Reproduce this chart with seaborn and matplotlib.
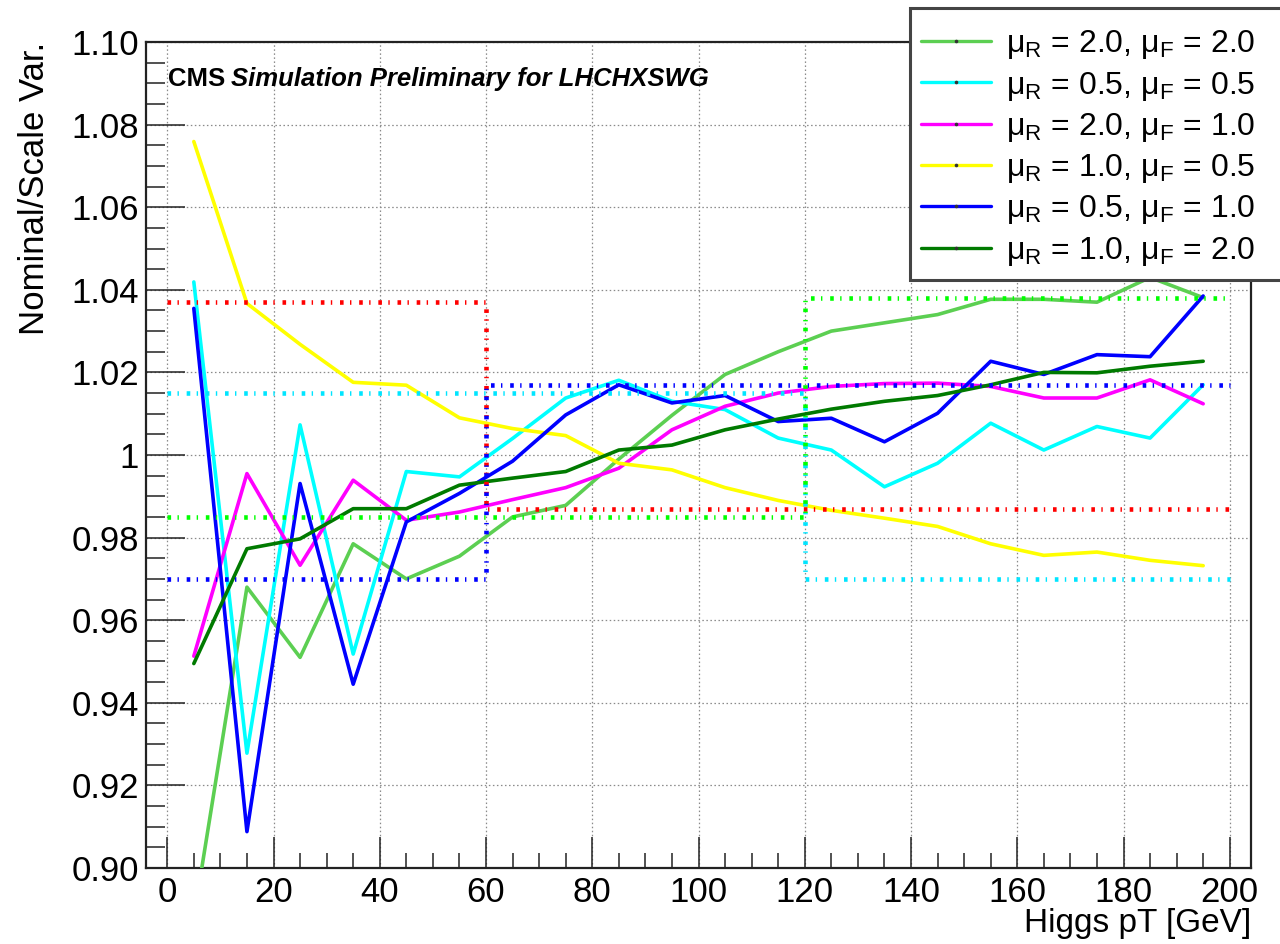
import numpy as np
import pandas as pd
import matplotlib
matplotlib.use("Agg")
import matplotlib.pyplot as plt
from matplotlib.lines import Line2D
from matplotlib.patches import Rectangle
from matplotlib.ticker import MultipleLocator, FuncFormatter
import seaborn as sns

# ---- data -------------------------------------------------------------
pt_centers = [5, 15, 25, 35, 45, 55, 65, 75, 85, 95,
              105, 115, 125, 135, 145, 155, 165, 175, 185, 195]

var_labels = [
    "μ$_\\mathregular{R}$ = 2.0, μ$_\\mathregular{F}$ = 2.0",
    "μ$_\\mathregular{R}$ = 0.5, μ$_\\mathregular{F}$ = 0.5",
    "μ$_\\mathregular{R}$ = 2.0, μ$_\\mathregular{F}$ = 1.0",
    "μ$_\\mathregular{R}$ = 1.0, μ$_\\mathregular{F}$ = 0.5",
    "μ$_\\mathregular{R}$ = 0.5, μ$_\\mathregular{F}$ = 1.0",
    "μ$_\\mathregular{R}$ = 1.0, μ$_\\mathregular{F}$ = 2.0",
]
var_colors = ["#5ccf52", "#00ffff", "#ff00ff", "#ffff00", "#0000ff", "#007a00"]

r20_f20 = [0.888, 0.968, 0.951, 0.9785, 0.970, 0.9755, 0.985, 0.9878, 0.999, 1.0096,
           1.0195, 1.025, 1.030, 1.032, 1.034, 1.0377, 1.0377, 1.037, 1.043, 1.0381]
r05_f05 = [1.0419, 0.9278, 1.0073, 0.9518, 0.9960, 0.9947, 1.004, 1.0138, 1.0181, 1.013,
           1.011, 1.0041, 1.0012, 0.9923, 0.998, 1.0077, 1.0012, 1.0069, 1.0041, 1.017]
r20_f10 = [0.9513, 0.9955, 0.9733, 0.9939, 0.9842, 0.9862, 0.9892, 0.9921, 0.9968, 1.0061,
           1.0118, 1.015, 1.0166, 1.0173, 1.0174, 1.0166, 1.0138, 1.0138, 1.0182, 1.0124]
r10_f05 = [1.0759, 1.0367, 1.0268, 1.0176, 1.0169, 1.0090, 1.0064, 1.0047, 0.998, 0.9964,
           0.9921, 0.9890, 0.9866, 0.9847, 0.9827, 0.9785, 0.9757, 0.9765, 0.9745, 0.9732]
r05_f10 = [1.0355, 0.9088, 0.9931, 0.9445, 0.9838, 0.9907, 0.9985, 1.0097, 1.017, 1.0126,
           1.0144, 1.0081, 1.0089, 1.0032, 1.0101, 1.0227, 1.0195, 1.0243, 1.0238, 1.0385]
r10_f20 = [0.9495, 0.9773, 0.9797, 0.9870, 0.9870, 0.9927, 0.9944, 0.9960, 1.0012, 1.0024,
           1.0061, 1.0087, 1.0111, 1.0130, 1.0144, 1.0170, 1.0200, 1.0199, 1.0215, 1.0227]

series_values = [r20_f20, r05_f05, r20_f10, r10_f05, r05_f10, r10_f20]

# envelope steps over coarse pT bins
env_edges = [0, 60, 120, 200]
env_red = [1.037, 0.987, 0.987]
env_cyan = [1.015, 1.015, 0.970]
env_blue = [0.970, 1.017, 1.017]
env_green = [0.985, 0.985, 1.038]
env_series = [env_red, env_cyan, env_blue, env_green]
env_colors = ["#ff0000", "#00e5ff", "#0000ff", "#00ff00"]

y_ticks = [0.90, 0.92, 0.94, 0.96, 0.98, 1.00, 1.02, 1.04, 1.06, 1.08, 1.10]
x_ticks = [0, 20, 40, 60, 80, 100, 120, 140, 160, 180, 200]

# ---- style ------------------------------------------------------------
sns.set_theme(style="white")
plt.rcParams["font.family"] = ["Liberation Sans", "DejaVu Sans"]
plt.rcParams["text.color"] = "black"
plt.rcParams["axes.labelcolor"] = "black"
plt.rcParams["mathtext.fontset"] = "custom"
plt.rcParams["mathtext.rm"] = "Liberation Sans"
plt.rcParams["mathtext.it"] = "Liberation Sans:italic"
plt.rcParams["mathtext.bf"] = "Liberation Sans:bold"
plt.rcParams["lines.scale_dashes"] = False

fig = plt.figure(figsize=(12.8, 9.44), dpi=100)
ax = fig.add_axes([146 / 1280, 1 - 868 / 944, (1251 - 146) / 1280, (868 - 42) / 944])

long_df = pd.DataFrame({
    "pt": np.tile(pt_centers, len(var_labels)),
    "ratio": np.concatenate(series_values),
    "variation": np.repeat(var_labels, len(pt_centers)),
})

sns.lineplot(data=long_df, x="pt", y="ratio", hue="variation",
             hue_order=var_labels, palette=dict(zip(var_labels, var_colors)),
             estimator=None, sort=False, linewidth=2.6, legend=False,
             ax=ax, zorder=3)

# dash-dot step envelopes
for vals, col in zip(env_series, env_colors):
    sns.lineplot(x=env_edges, y=vals + [vals[-1]], drawstyle="steps-post",
                 color=col, linewidth=3.3, dashes=False,
                 linestyle=(0, (2.6, 4.6, 1.0, 5.6)),
                 estimator=None, sort=False, ax=ax, zorder=4)

ax.set_xlim(-4, 204)
ax.set_ylim(0.90, 1.10)
ax.set_xticks(x_ticks)
ax.set_yticks(y_ticks)
ax.xaxis.set_minor_locator(MultipleLocator(5))
ax.yaxis.set_minor_locator(MultipleLocator(0.005))


def ylab(v, _):
    s = f"{v:.2f}"
    return "1" if s == "1.00" else s


ax.yaxis.set_major_formatter(FuncFormatter(ylab))

ax.grid(True, which="major", color="#8a8a8a", linewidth=0.9,
        linestyle=(0, (1.1, 1.8)))
ax.set_axisbelow(True)

ax.tick_params(axis="both", which="both", direction="in", color="#222222",
               width=1.1, labelsize=25, labelcolor="black",
               bottom=True, left=True, top=False, right=False)
ax.tick_params(axis="x", which="major", length=22, pad=6)
ax.tick_params(axis="x", which="minor", length=11)
ax.tick_params(axis="y", which="major", length=28, pad=5)
ax.tick_params(axis="y", which="minor", length=14)

for sp in ax.spines.values():
    sp.set_visible(True)
    sp.set_color("#222222")
    sp.set_linewidth(1.6)

ax.set_xlabel("Higgs pT [GeV]", fontsize=24, loc="right", color="black")
ax.xaxis.set_label_coords(1.0, -0.0484)
ax.set_ylabel("Nominal/Scale Var.", fontsize=25, loc="top", color="black")
ax.yaxis.set_label_coords(-0.086, 1.0)

# experiment label
t1 = ax.text(0.02, 0.955, "CMS", transform=ax.transAxes, fontsize=18.5,
             fontweight="bold", va="center", ha="left", color="black")
ax.annotate("Simulation Preliminary for LHCHXSWG", xy=(1, 0), xycoords=t1,
            xytext=(6, 0), textcoords="offset pixels", fontsize=18.5,
            fontweight="bold", fontstyle="italic", va="bottom", ha="left",
            color="black")

# legend box (runs past the right edge of the canvas)
fig.add_artist(Rectangle((910 / 1280, 1 - 280 / 944), 0.3, 272 / 944,
                         transform=fig.transFigure, facecolor="white",
                         edgecolor="#444444", linewidth=2.2, zorder=4,
                         clip_on=False))
handles = [Line2D([0], [0], color=c, linewidth=2.4, marker="o", markersize=1.6,
                  markerfacecolor="#333333", markeredgecolor="#333333")
           for c in var_colors]
fig.legend(handles, var_labels, loc="upper left",
           bbox_to_anchor=(918 / 1280, 1 - 25 / 944), frameon=False,
           fontsize=23, handlelength=2.2, handletextpad=0.45,
           labelspacing=0.26, numpoints=1, borderpad=0.1, borderaxespad=0,
           labelcolor="black")

fig.savefig("out.png", dpi=100)
